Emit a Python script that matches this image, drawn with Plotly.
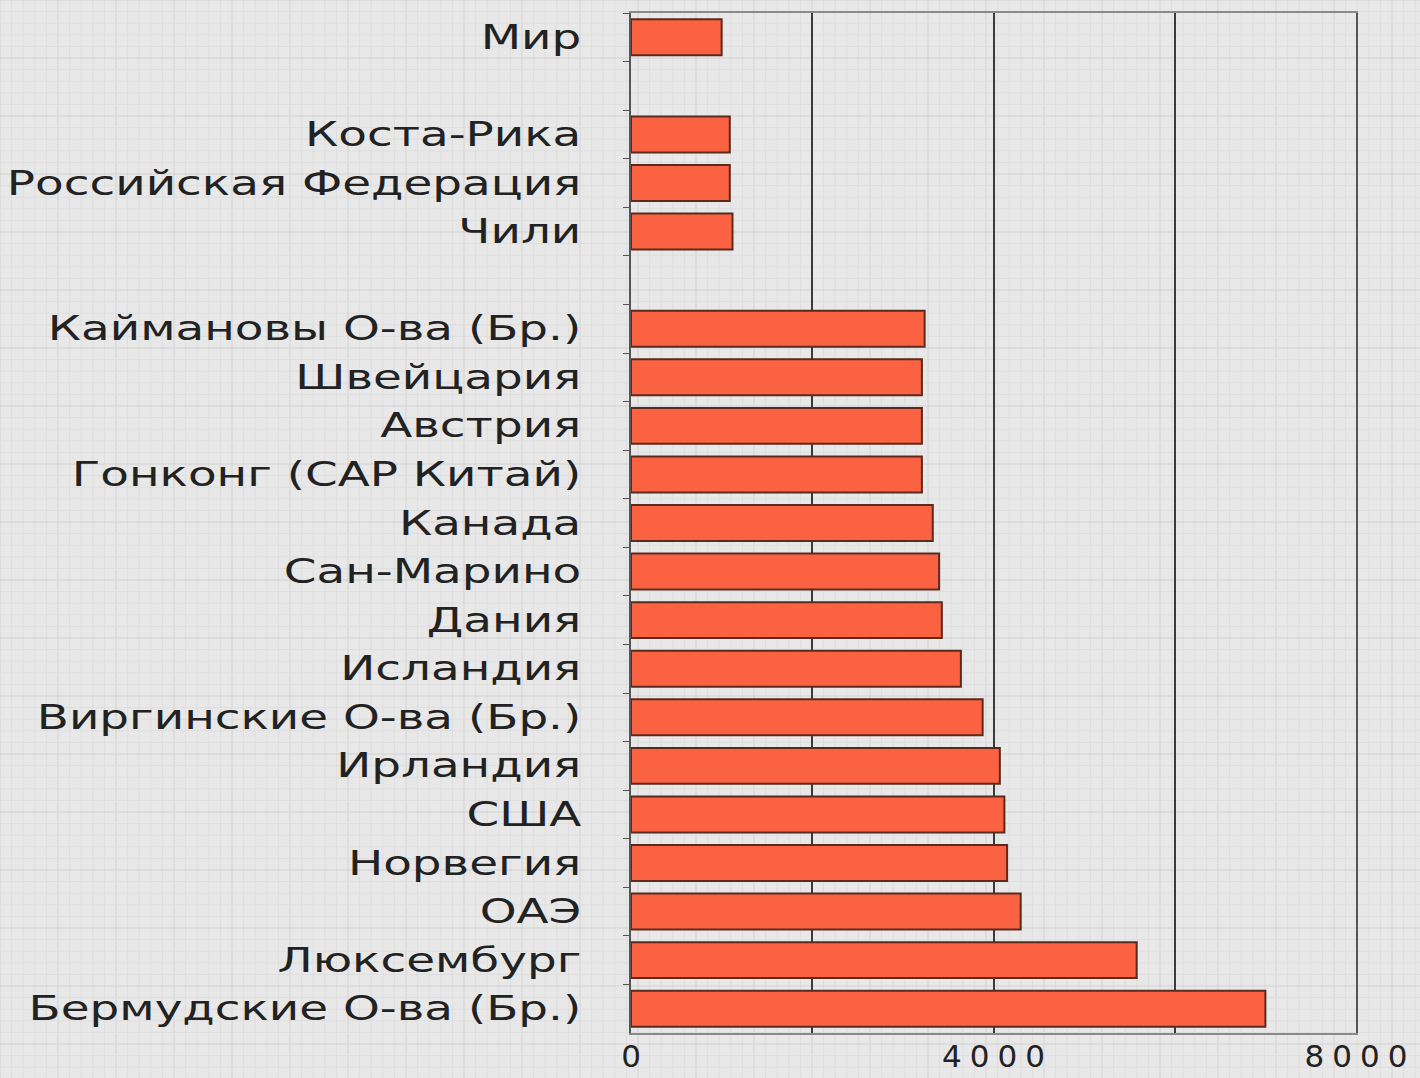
import plotly.graph_objects as go

categories = ["Мир", " ", "Коста-Рика", "Российская Федерация", "Чили", "  ",
              "Каймановы О-ва (Бр.)", "Швейцария", "Австрия", "Гонконг (САР Китай)",
              "Канада", "Сан-Марино", "Дания", "Исландия", "Виргинские О-ва (Бр.)",
              "Ирландия", "США", "Норвегия", "ОАЭ", "Люксембург", "Бермудские О-ва (Бр.)"]
values = [1000, None, 1090, 1090, 1120, None,
          3240, 3210, 3210, 3210,
          3330, 3400, 3430, 3640, 3880,
          4070, 4120, 4150, 4300, 5580, 7000]
x_tickvals = [0, 2000, 4000, 6000, 8000]
x_ticktext = ["0", "", "4000", "", "8000"]

W, H = 1420, 1078
ML, MR, MT, MB = 631, 64, 13, 45
pw, ph = W - ML - MR, H - MT - MB

fig = go.Figure(go.Bar(
    y=categories, x=values, orientation="h",
    marker=dict(color="#fb6241", line=dict(color="#5b2a1e", width=2)),
    width=0.74,
))

# grid-paper background
shapes = []
step = 11.6
i = 0
px = 0.0
while px <= W:
    col = "#d2d2d2" if i % 5 == 0 else "#dedede"
    xp = (px - ML) / pw
    shapes.append(dict(type="line", xref="paper", yref="paper", x0=xp, x1=xp,
                       y0=-MB / ph, y1=1 + MT / ph, line=dict(color=col, width=1), layer="below"))
    px += step
    i += 1
i = 0
py = 0.0
while py <= H:
    col = "#d2d2d2" if i % 5 == 0 else "#dedede"
    yp = 1 - (py - MT) / ph
    shapes.append(dict(type="line", xref="paper", yref="paper", y0=yp, y1=yp,
                       x0=-ML / pw, x1=1 + MR / pw, line=dict(color=col, width=1), layer="below"))
    py += step
    i += 1

fig.update_layout(
    width=W, height=H,
    margin=dict(l=ML, r=MR, t=MT, b=MB, autoexpand=False),
    paper_bgcolor="#e8e8e8",
    plot_bgcolor="rgba(0,0,0,0)",
    showlegend=False,
    shapes=shapes,
    font=dict(family="DejaVu Sans", color="#222222"),
    xaxis=dict(range=[0, 8000], tickvals=x_tickvals, ticktext=x_ticktext,
               showgrid=True, gridcolor="#3a3a3a", gridwidth=2,
               showline=True, linecolor="#8a8a8a", linewidth=2, mirror=True,
               zeroline=False, tickfont=dict(size=31, family="DejaVu Sans", color="#222222"),
               ticks="", fixedrange=True, automargin=False, ticklabelstandoff=-5,
               ticklabelshift=4),
    yaxis=dict(type="category", autorange="reversed", tickson="boundaries",
               ticks="outside", ticklen=4, tickcolor="#555555",
               showline=True, linecolor="#555555", linewidth=2, mirror=True,
               showgrid=False, ticklabelstandoff=27, automargin=False,
               tickfont=dict(size=33, family="DejaVu Sans", color="#222222")),
)

post = """
document.body.style.margin='0';
var st=document.createElement('style');
st.textContent='.yaxislayer-above{transform-box:fill-box;transform-origin:right center;transform:scaleX(1.42);} .xtick text{letter-spacing:8px;}';
document.head.appendChild(st);
"""
fig.write_html("out.html", post_script=post, config={"displayModeBar": False})
